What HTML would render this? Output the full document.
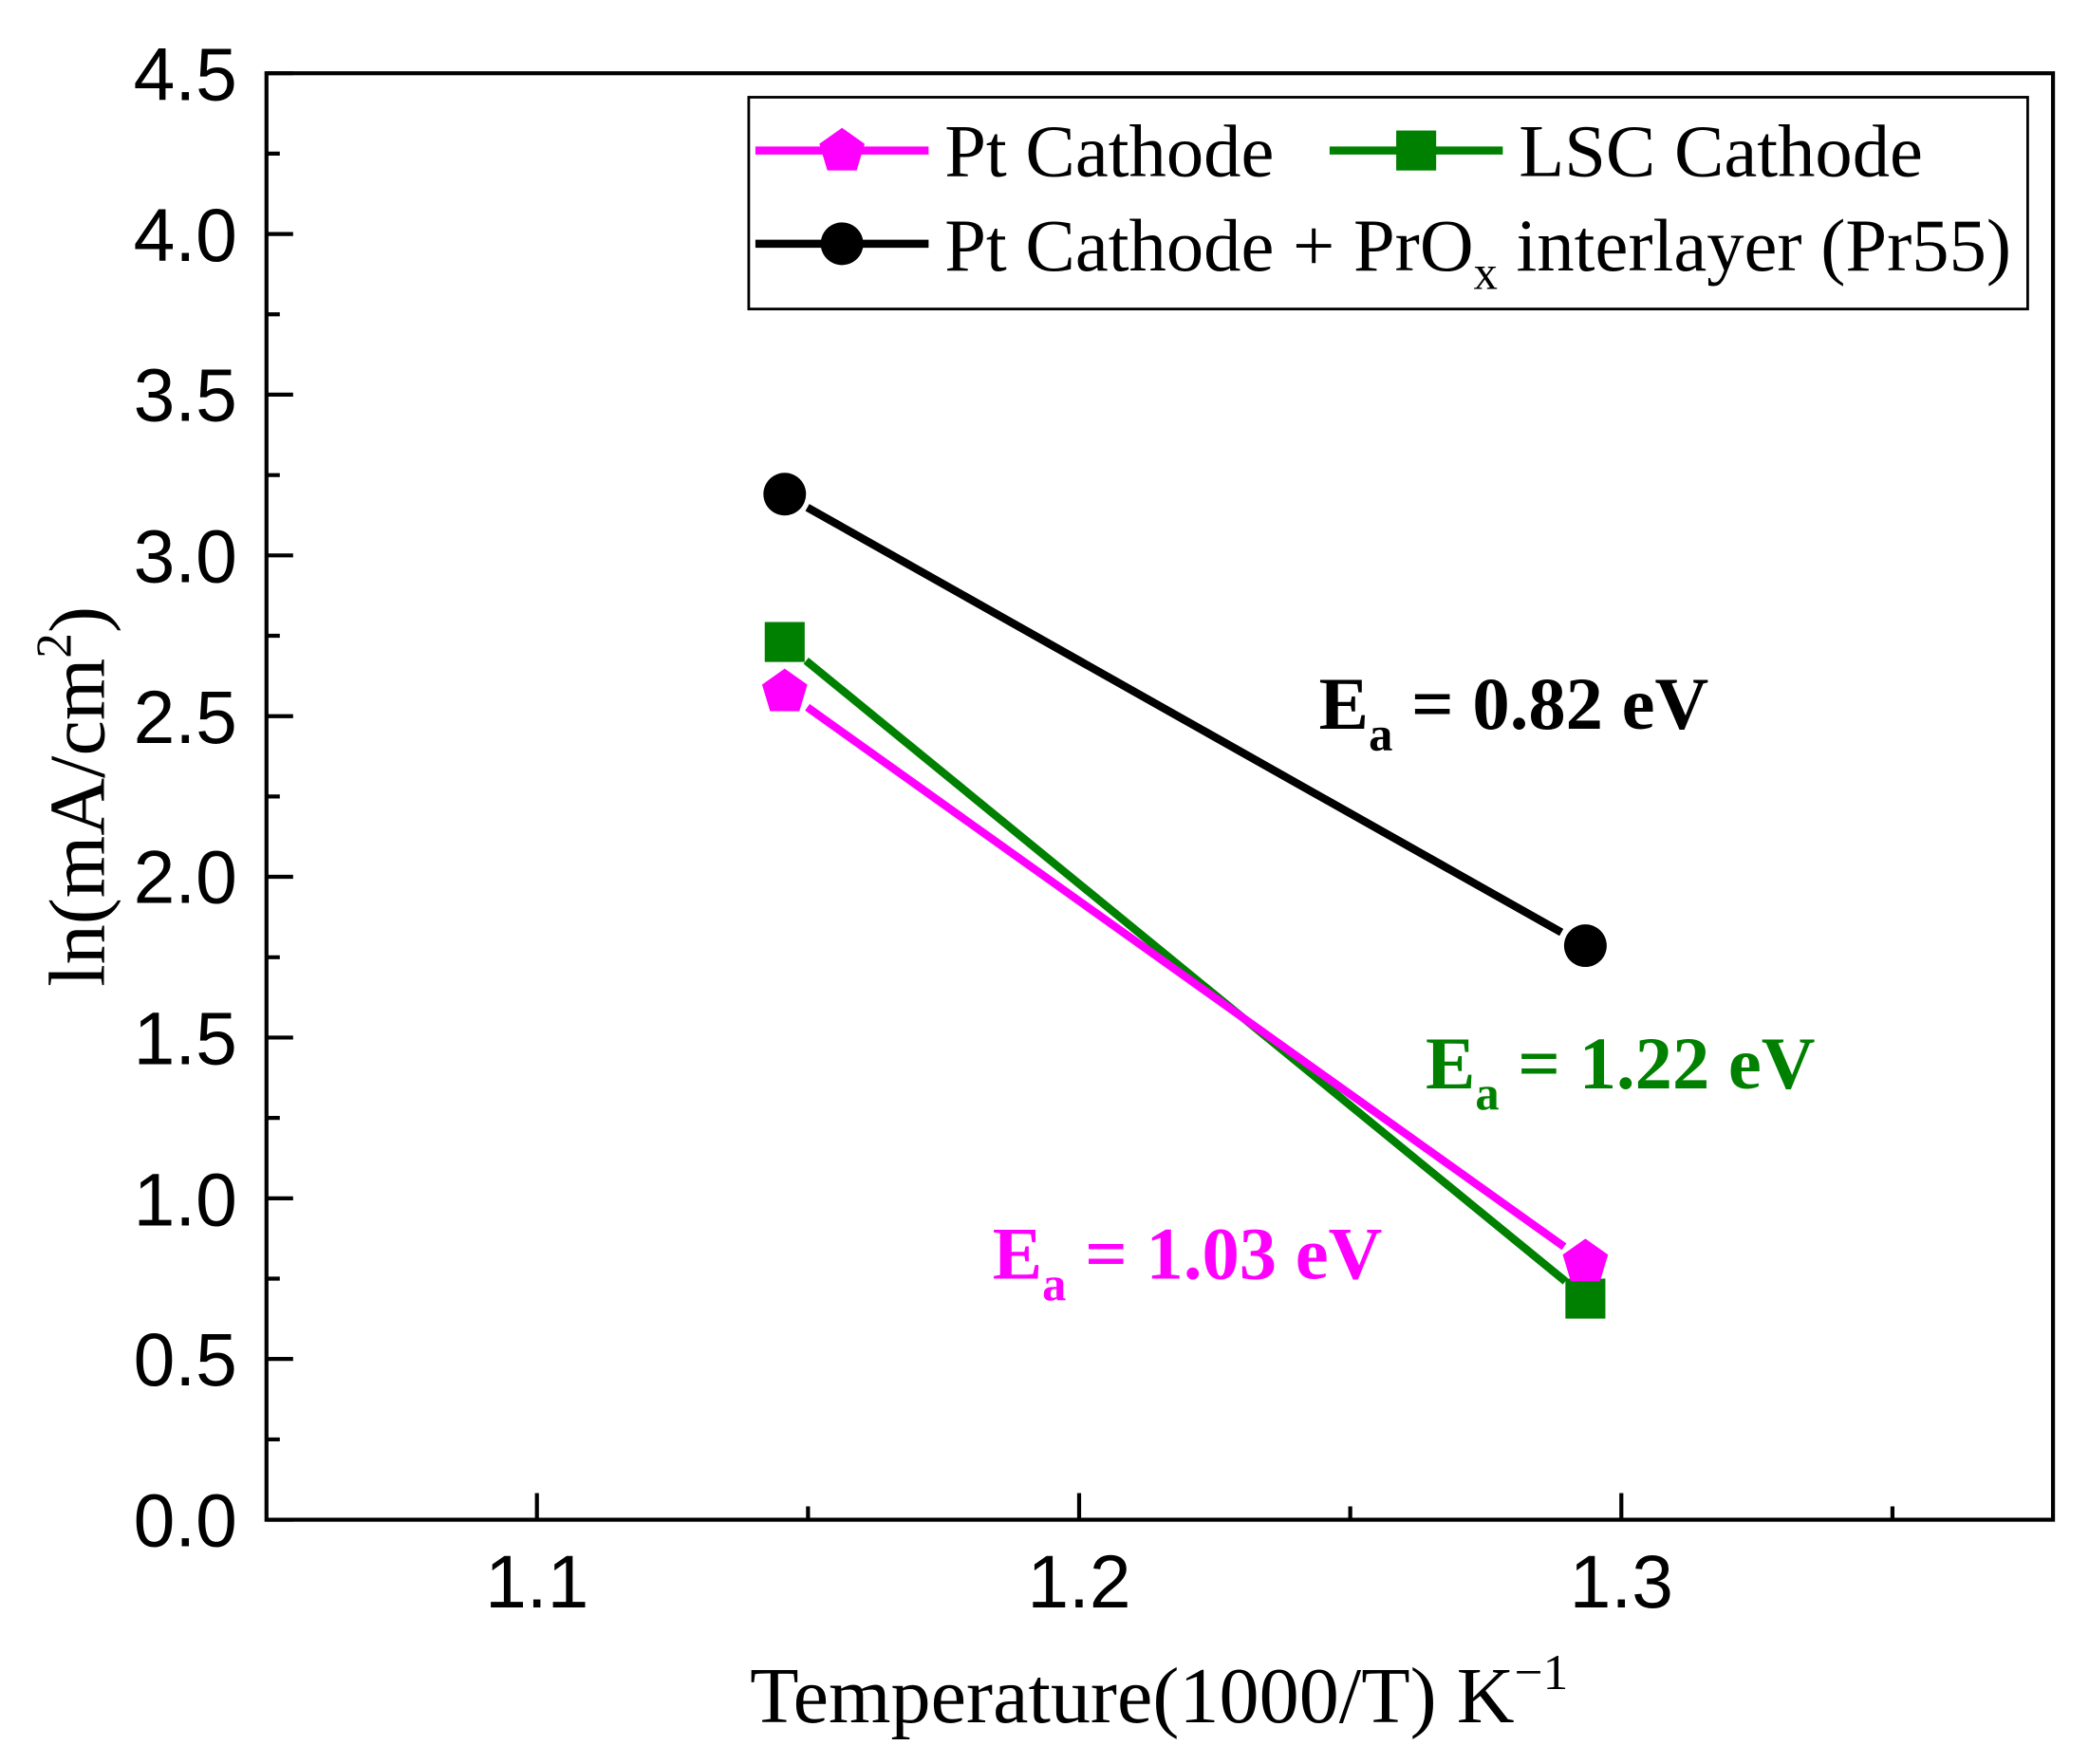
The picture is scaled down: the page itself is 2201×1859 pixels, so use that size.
<!DOCTYPE html>
<html><head><meta charset="utf-8"><style>html,body{margin:0;padding:0;background:#fff}svg{display:block}</style></head><body>
<svg width="2201" height="1859" viewBox="0 0 1568 1324.4" xmlns="http://www.w3.org/2000/svg">
<rect width="1568" height="1325" fill="#fff"/>
<g stroke="#000" stroke-width="3" fill="none">
<rect x="200" y="55" width="1341" height="1086"/>
<path d="M200 1141h20M200 1080.7h10M200 1020.3h20M200 960h10M200 899.7h20M200 839.3h10M200 779h20M200 718.7h10M200 658.3h20M200 598h10M200 537.7h20M200 477.3h10M200 417h20M200 356.7h10M200 296.3h20M200 236h10M200 175.7h20M200 115.3h10M200 55h20"/>
<path d="M403 1141v-20M606.5 1141v-10M810 1141v-20M1013.5 1141v-10M1217 1141v-20M1420.5 1141v-10"/>
</g>
<g font-family="Liberation Sans, Arial, sans-serif" font-size="56" text-anchor="end" fill="#000">
<text x="178" y="1161">0.0</text><text x="178" y="1040">0.5</text><text x="178" y="920">1.0</text><text x="178" y="799">1.5</text><text x="178" y="678">2.0</text><text x="178" y="558">2.5</text><text x="178" y="437">3.0</text><text x="178" y="316">3.5</text><text x="178" y="196">4.0</text><text x="178" y="75">4.5</text>
</g>
<g font-family="Liberation Sans, Arial, sans-serif" font-size="56" text-anchor="middle" fill="#000">
<text x="403" y="1207">1.1</text><text x="810" y="1207">1.2</text><text x="1217" y="1207">1.3</text>
</g>
<text x="870" y="1293" font-family="Liberation Serif, serif" font-size="60" text-anchor="middle">Temperature(1000/T) K<tspan font-size="38" dy="-25">−1</tspan></text>
<text transform="translate(78,598) rotate(-90)" font-family="Liberation Serif, serif" font-size="60" text-anchor="middle">ln(mA/cm<tspan font-size="38" dy="-25">2</tspan><tspan dy="25">)</tspan></text>
<g stroke-width="6" fill="none">
<line x1="606" y1="381" x2="1172" y2="700" stroke="#000"/>
<line x1="605" y1="496" x2="1175" y2="962" stroke="#008000"/>
<line x1="606" y1="531" x2="1174" y2="936" stroke="#ff00ff"/>
</g>
<circle cx="589" cy="371" r="16" fill="#000"/>
<circle cx="1190" cy="710" r="16" fill="#000"/>
<rect x="574" y="467" width="30" height="30" fill="#008000"/>
<rect x="1175" y="960" width="30" height="30" fill="#008000"/>
<polygon points="589,502 606,514 600,534 578,534 572,514" fill="#ff00ff"/>
<polygon points="1190,930 1207,942 1201,962 1179,962 1173,942" fill="#ff00ff"/>
<rect x="562" y="73" width="960" height="159" fill="#fff" stroke="#000" stroke-width="2"/>
<line x1="567" y1="113" x2="697" y2="113" stroke="#ff00ff" stroke-width="6"/>
<polygon points="632,96 649,108 643,128 621,128 615,108" fill="#ff00ff"/>
<line x1="998" y1="113" x2="1128" y2="113" stroke="#008000" stroke-width="6"/>
<rect x="1048" y="98" width="30" height="30" fill="#008000"/>
<line x1="567" y1="183" x2="697" y2="183" stroke="#000" stroke-width="6"/>
<circle cx="632" cy="183" r="16" fill="#000"/>
<g font-family="Liberation Serif, serif" font-size="56" fill="#000">
<text x="709" y="132">Pt Cathode</text>
<text x="1140" y="132">LSC Cathode</text>
<text x="709" y="203">Pt Cathode + PrO<tspan font-size="36" dy="14">x</tspan><tspan dy="-14"> interlayer (Pr55)</tspan></text>
</g>
<g font-family="Liberation Serif, serif" font-size="56" font-weight="bold">
<text x="990" y="547" fill="#000">E<tspan font-size="36" dy="16">a</tspan><tspan dy="-16"> = 0.82 eV</tspan></text>
<text x="1070" y="817" fill="#008000">E<tspan font-size="36" dy="16">a</tspan><tspan dy="-16"> = 1.22 eV</tspan></text>
<text x="745" y="960" fill="#ff00ff">E<tspan font-size="36" dy="16">a</tspan><tspan dy="-16"> = 1.03 eV</tspan></text>
</g>
</svg>
</body></html>
